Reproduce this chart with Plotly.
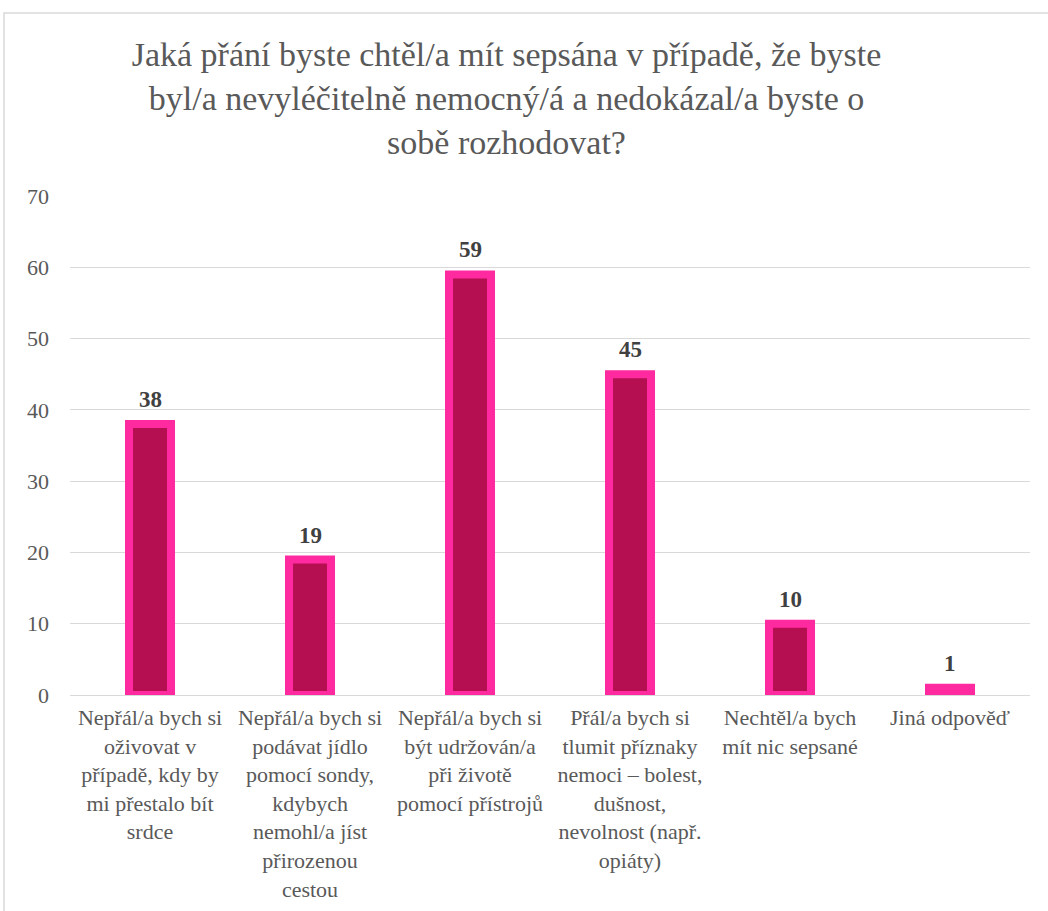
import plotly.graph_objects as go

# Survey answers and counts
categories = [
    "Nepřál/a bych si<br>oživovat v<br>případě, kdy by<br>mi přestalo bít<br>srdce",
    "Nepřál/a bych si<br>podávat jídlo<br>pomocí sondy,<br>kdybych<br>nemohl/a jíst<br>přirozenou<br>cestou",
    "Nepřál/a bych si<br>být udržován/a<br>při životě<br>pomocí přístrojů",
    "Přál/a bych si<br>tlumit příznaky<br>nemoci – bolest,<br>dušnost,<br>nevolnost (např.<br>opiáty)",
    "Nechtěl/a bych<br>mít nic sepsané",
    "Jiná odpověď",
]
counts = [38, 19, 59, 45, 10, 1]
y_ticks = [0, 10, 20, 30, 40, 50, 60, 70]

title_text = ("Jaká přání byste chtěl/a mít sepsána v případě, že byste<br>"
              "byl/a nevyléčitelně nemocný/á a nedokázal/a byste o<br>"
              "sobě rozhodovat?")

FONT = "Liberation Serif"
GREY = "#595959"

W, H = 1048, 911
L, R, T, B = 70, 18, 196, 216
plot_w = W - L - R
plot_h = H - T - B

fig = go.Figure()
fig.add_trace(go.Bar(
    x=list(range(len(categories))),
    y=counts,
    width=0.2625,
    marker=dict(color="#B50F52", line=dict(color="#FF2AA0", width=8)),
    hoverinfo="y",
))

# value labels above each bar
for i, v in enumerate(counts):
    fig.add_annotation(
        x=i, y=v, text=f"<b>{v}</b>", showarrow=False,
        yanchor="bottom", yshift=10,
        font=dict(family=FONT, size=23, color="#404040"),
    )

# outer chart border
def px_x(p):
    return (p - L) / plot_w

def px_y(p):
    return (H - B - p) / plot_h

fig.add_shape(type="rect", xref="paper", yref="paper",
              x0=px_x(4), x1=px_x(1070), y0=px_y(940), y1=px_y(13),
              line=dict(color="#D9D9D9", width=1.5), fillcolor="rgba(0,0,0,0)",
              layer="below")

fig.update_layout(
    width=W, height=H,
    margin=dict(l=L, r=R, t=T, b=B, autoexpand=False),
    paper_bgcolor="white", plot_bgcolor="white",
    showlegend=False,
    font=dict(family=FONT, size=22, color=GREY),
    title=dict(text=title_text, x=px_x(534), xanchor="center",
               y=1 - 66 / H, yanchor="top",
               font=dict(family=FONT, size=34, color=GREY)),
    xaxis=dict(
        range=[-0.5, len(categories) - 0.5], automargin=False,
        tickmode="array", tickvals=list(range(len(categories))), ticktext=categories,
        showgrid=False, zeroline=False, showline=False, ticks="",
        tickangle=0, ticklabelstandoff=7,
        tickfont=dict(family=FONT, size=22, color=GREY),
    ),
    yaxis=dict(
        range=[0, 70], tickmode="array", tickvals=y_ticks, automargin=False,
        showgrid=True, gridcolor="#D9D9D9", gridwidth=1.3,
        zeroline=True, zerolinecolor="#D9D9D9", zerolinewidth=1.3,
        showline=False, ticks="", ticklabelstandoff=20,
        tickfont=dict(family=FONT, size=22, color=GREY),
    ),
)

fig.write_html("out.html")
